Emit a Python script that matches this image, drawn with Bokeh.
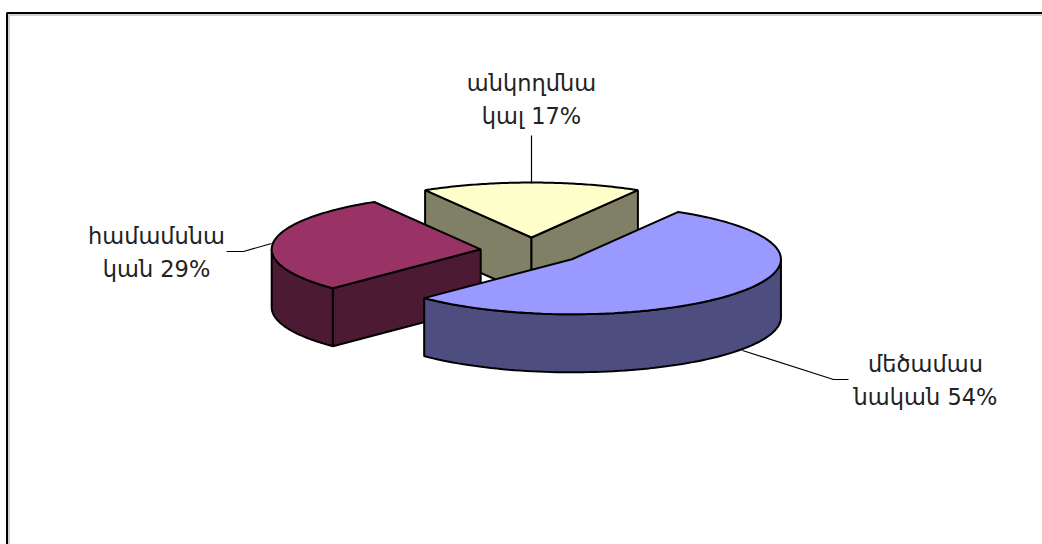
import numpy as np
from bokeh.plotting import figure
from bokeh.embed import file_html
from bokeh.resources import INLINE
from bokeh.core.properties import value
from bokeh.models import Range1d

# Data
label_lines = [["անկողմնա", "կալ 17%"], ["մեծամաս", "նական 54%"], ["համամսնա", "կան 29%"]]
shares = [17, 54, 29]
top_colors = ["#FFFFCC", "#9999FF", "#993366"]
side_colors = ["#808066", "#4D4D80", "#4D1A33"]

W, H = 1042, 544

fig = figure(width=W, height=H, output_backend="svg", toolbar_location=None,
             x_range=Range1d(0, W), y_range=Range1d(H, 0),
             min_border=0, outline_line_color=None, background_fill_color="white")
fig.axis.visible = False
fig.grid.visible = False

# Geometry of the exploded pie
CX, CY = 531.0, 250.5
A, B = 209.0, 55.0
EXPL = 0.245
DEPTH = 58.0
START = 90 + 30.6   # first slice starts here, goes clockwise

starts, ends = [], []
ang = START
for s in shares:
    starts.append(ang)
    ang -= s * 3.6
    ends.append(ang)

def pt(c, t):
    r = np.radians(t)
    return c[0] + A * np.cos(r), c[1] - B * np.sin(r)

centers = []
for a0, a1 in zip(starts, ends):
    m = np.radians((a0 + a1) / 2)
    centers.append((CX + EXPL * A * np.cos(m), CY - EXPL * B * np.sin(m)))

def arc(c, a0, a1, n=80):
    t = np.radians(np.linspace(a0, a1, n))
    return c[0] + A * np.cos(t), c[1] - B * np.sin(t)

LW = 2.0

def wall(c, a0, a1, color):
    x, y = arc(c, a0, a1)
    xs = np.concatenate([x, x[::-1]])
    ys = np.concatenate([y, y[::-1] + DEPTH])
    fig.patch(xs, ys, fill_color=color, line_color="black", line_width=LW)

def cut(c, a, color):
    x, y = pt(c, a)
    xs = [c[0], x, x, c[0]]
    ys = [c[1], y, y + DEPTH, c[1] + DEPTH]
    fig.patch(xs, ys, fill_color=color, line_color="black", line_width=LW)

def top(c, a0, a1, color):
    x, y = arc(c, a0, a1)
    xs = np.concatenate([[c[0]], x])
    ys = np.concatenate([[c[1]], y])
    fig.patch(xs, ys, fill_color=color, line_color="black", line_width=LW)

# Frame
fig.line([6.5, 6.5, 1042], [544, 12.5, 12.5], line_color="black", line_width=2)
fig.line([8.5, 8.5, 1042], [544, 14.5, 14.5], line_color="#C0C0C0", line_width=1.5)

# Yellow (back)
cut(centers[0], starts[0], side_colors[0])
cut(centers[0], ends[0], side_colors[0])
top(centers[0], starts[0], ends[0], top_colors[0])
# Red (left)
wall(centers[2], 180, 360 + ends[1], side_colors[2])
cut(centers[2], 360 + starts[2], side_colors[2])
top(centers[2], 360 + ends[2], 360 + starts[2], top_colors[2])
# Blue (front)
wall(centers[1], ends[1], 0, side_colors[1])
top(centers[1], starts[1], ends[1], top_colors[1])

# Leader lines
fig.line([531, 531], [183, 135], line_color="black", line_width=1.2)
fig.line([271, 243, 226], [243, 251, 251], line_color="black", line_width=1.2)
fig.line([742, 833, 848], [350, 379, 379], line_color="black", line_width=1.2)

# Labels
label_pos = [(531, 82), (925, 363), (156, 235)]
LH = 33
for lines, (lx, ly) in zip(label_lines, label_pos):
    for i, t in enumerate(lines):
        fig.text([lx], [ly + i * LH], text=[t], text_align="center", text_baseline="middle",
                 text_font=value("DejaVu Sans"), text_font_size="22.5px", text_color="#222222")

open("out.html", "w").write(file_html(fig, INLINE))
